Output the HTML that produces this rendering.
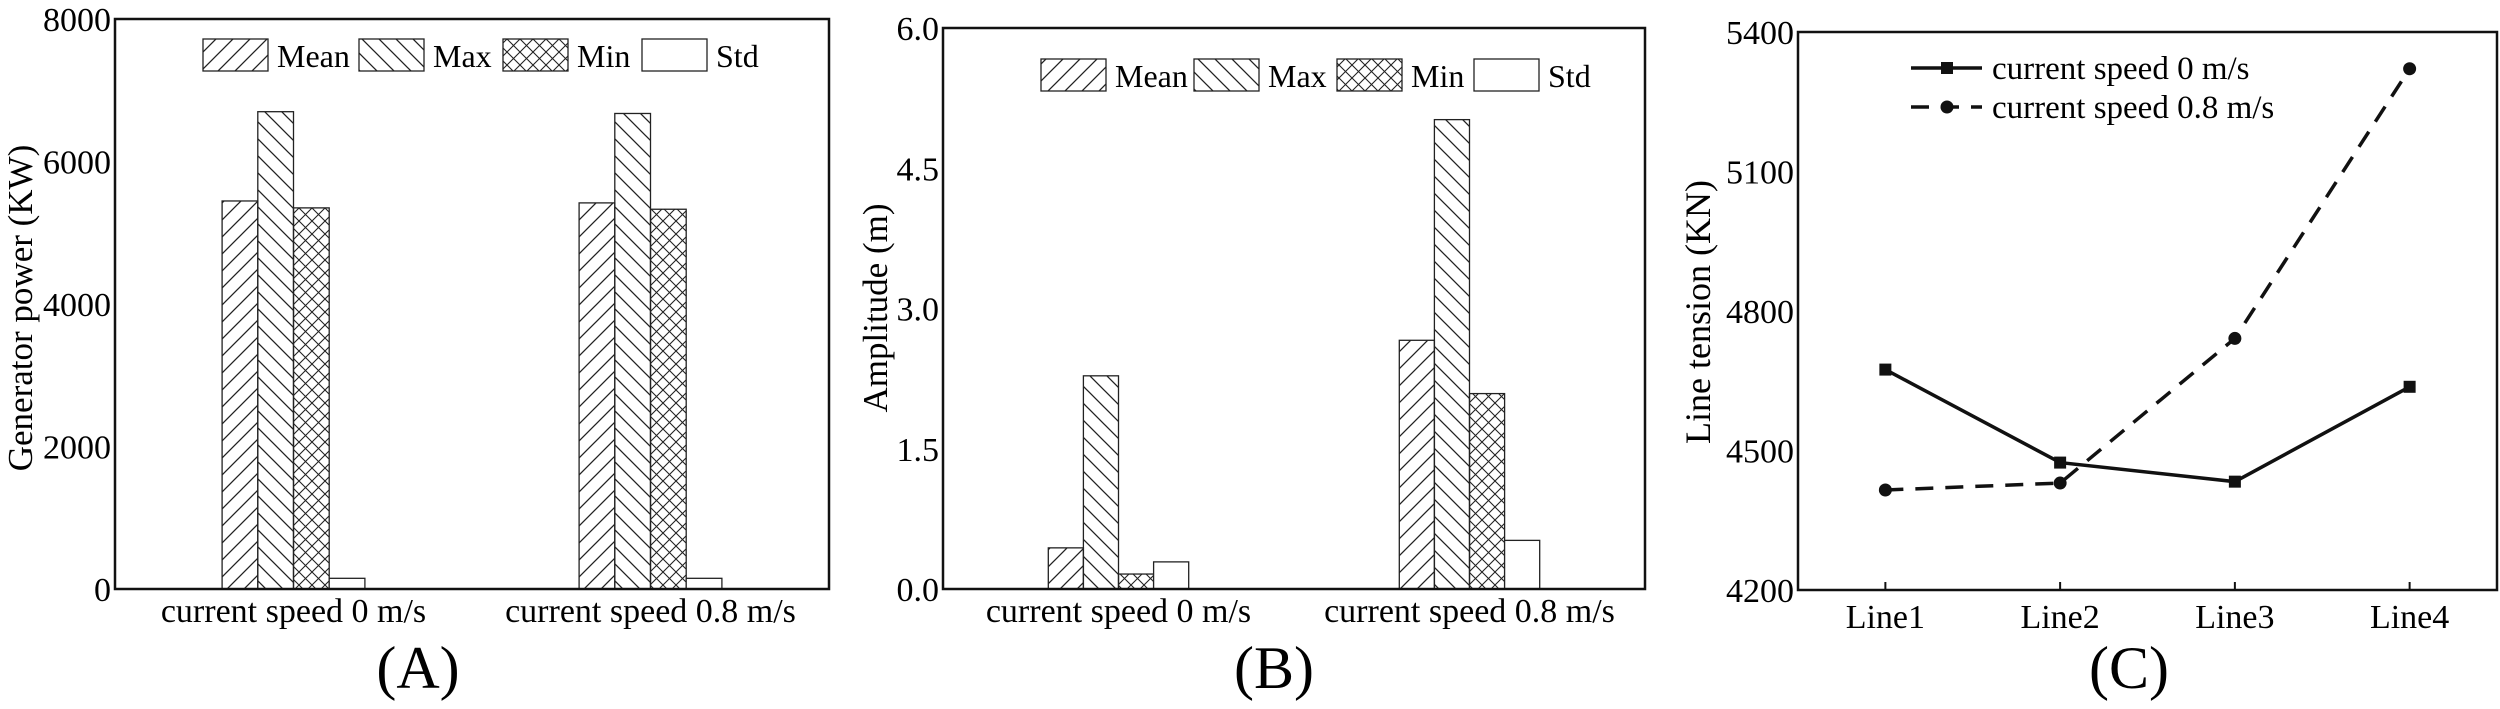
<!DOCTYPE html>
<html><head><meta charset="utf-8"><style>
html,body{margin:0;padding:0;background:#fff;}
svg{display:block;font-family:"Liberation Serif",serif;}
</style></head><body>
<svg id="fig" width="2500" height="709" viewBox="0 0 2500 709" xmlns="http://www.w3.org/2000/svg">
<defs>
<pattern id="pMean" patternUnits="userSpaceOnUse" width="17" height="17">
<path d="M-2,19 L19,-2 M-2,2 L2,-2 M15,19 L19,15" stroke="#222" stroke-width="1.3"/></pattern>
<pattern id="pMax" patternUnits="userSpaceOnUse" width="17" height="17">
<path d="M-2,-2 L19,19 M15,-2 L19,2 M-2,15 L2,19" stroke="#222" stroke-width="1.3"/></pattern>
<pattern id="pMin" patternUnits="userSpaceOnUse" width="13" height="13">
<path d="M-2,15 L15,-2 M-2,-2 L15,15 M-2,2 L2,-2 M11,15 L15,11 M11,-2 L15,2 M-2,11 L2,15" stroke="#222" stroke-width="1.1"/></pattern>
</defs>
<g id="gA"></g>
<g id="gB"></g>
<g id="gC"></g>
</svg>
<script>
const barSeries = ["Mean","Max","Min","Std"];
const barCats = ["current speed 0 m/s","current speed 0.8 m/s"];
const aMean = [5446, 5419];
const aMax = [6699, 6674];
const aMin = [5349, 5330];
const aStd = [150, 150];
const aTicks = ["0","2000","4000","6000","8000"];
const bMean = [0.44, 2.66];
const bMax = [2.28, 5.02];
const bMin = [0.16, 2.09];
const bStd = [0.29, 0.52];
const bTicks = ["0.0","1.5","3.0","4.5","6.0"];
const cCats = ["Line1","Line2","Line3","Line4"];
const cSpeed0 = [4674, 4474, 4433, 4637];
const cSpeed08 = [4415, 4430, 4741, 5321];
const cTicks = ["4200","4500","4800","5100","5400"];
const cSeriesNames = ["current speed 0 m/s","current speed 0.8 m/s"];

const NS="http://www.w3.org/2000/svg";
function mk(parent,tag,attrs,text){const e=document.createElementNS(NS,tag);for(const k in attrs)e.setAttribute(k,attrs[k]);if(text!==undefined)e.textContent=text;parent.appendChild(e);return e;}
const fills={Mean:"url(#pMean)",Max:"url(#pMax)",Min:"url(#pMin)",Std:"#fff"};

function barPanel(g,box,vals,ticks,ymax,ytitle,ytx,leg,label,labelX){
  const {l,r,t,b}=box, w=r-l;
  const y=v=>b-(v/ymax)*(b-t);
  const bw=w*0.05;
  vals.forEach((arr,si)=>{arr.forEach((v,ci)=>{
    const cx=l+w*(ci===0?0.25:0.75);
    const x=cx-2*bw+si*bw;
    const rc=mk(g,"rect",{x:x,y:y(v),width:bw,height:b-y(v),fill:fills[barSeries[si]],stroke:"#222","stroke-width":1.3});
    
    
  });});
  const fr=mk(g,"rect",{x:l,y:t,width:w,height:b-t,fill:"none",stroke:"#111","stroke-width":2.5});
  
  
  ticks.forEach((tk,i)=>{const v=ymax*i/(ticks.length-1);
    const tx=mk(g,"text",{x:l-4,y:y(v)+12,"text-anchor":"end","font-size":34},tk);
    
    
  });
  barCats.forEach((c,ci)=>{const cx=l+w*(ci===0?0.25:0.75);
    const tx=mk(g,"text",{x:cx,y:622,"text-anchor":"middle","font-size":34},c);
    
    
  });
  const yt=mk(g,"text",{x:ytx,y:308,"text-anchor":"middle","font-size":35,transform:"rotate(-90 "+ytx+" 308)"},ytitle);
  
  
  barSeries.forEach((s,si)=>{
    const lg=mk(g,"g",{});
    
    
    mk(lg,"rect",{x:leg.xs[si],y:leg.y,width:65,height:32,fill:fills[s],stroke:"#222","stroke-width":1.3});
    mk(lg,"text",{x:leg.xs[si]+74,y:leg.y+28,"font-size":32},s);
  });
  const pl=mk(g,"text",{x:labelX,y:688,"text-anchor":"middle","font-size":60},label);
  
  
}
barPanel(document.getElementById("gA"),{l:115,r:829,t:19,b:589},[aMean,aMax,aMin,aStd],aTicks,8000,"Generator power (KW)",32,{y:39,xs:[203,359,503,642]},"(A)",418);
barPanel(document.getElementById("gB"),{l:943,r:1645,t:28,b:589},[bMean,bMax,bMin,bStd],bTicks,6.0,"Amplitude (m)",887,{y:59,xs:[1041,1194,1337,1474]},"(B)",1274);

(function(){
  const g=document.getElementById("gC");
  const l=1798,r=2497,t=32,b=590,w=r-l;
  const y=v=>b-(v-4200)/1200*(b-t);
  const x=i=>l+w*(i+0.5)/4;
  const fr=mk(g,"rect",{x:l,y:t,width:w,height:b-t,fill:"none",stroke:"#111","stroke-width":2.5});
  
  
  cTicks.forEach((tk,i)=>{const v=4200+300*i;
    const tx=mk(g,"text",{x:l-4,y:y(v)+12,"text-anchor":"end","font-size":34},tk);
    
    
  });
  cCats.forEach((c,i)=>{
    mk(g,"line",{x1:x(i),x2:x(i),y1:b,y2:b-8,stroke:"#111","stroke-width":2});
    const tx=mk(g,"text",{x:x(i),y:628,"text-anchor":"middle","font-size":34},c);
    
    
  });
  const yt=mk(g,"text",{x:1710,y:312,"text-anchor":"middle","font-size":36,transform:"rotate(-90 1710 312)"},"Line tension (KN)");
  
  
  const p0=cSpeed0.map((v,i)=>x(i)+","+y(v)).join(" ");
  const l0=mk(g,"polyline",{points:p0,fill:"none",stroke:"#111","stroke-width":3.5});
  
  
  const p1=cSpeed08.map((v,i)=>x(i)+","+y(v)).join(" ");
  const l1=mk(g,"polyline",{points:p1,fill:"none",stroke:"#111","stroke-width":3.5,"stroke-dasharray":"18,12"});
  
  
  cSpeed0.forEach((v,i)=>{const m=mk(g,"rect",{x:x(i)-6,y:y(v)-6,width:12,height:12,fill:"#111"});
    
    });
  cSpeed08.forEach((v,i)=>{const m=mk(g,"circle",{cx:x(i),cy:y(v),r:6.5,fill:"#111"});
    
    });
  const lg0=mk(g,"g",{});
  
  
  mk(lg0,"line",{x1:1911,x2:1982,y1:68,y2:68,stroke:"#111","stroke-width":3.5});
  mk(lg0,"rect",{x:1941,y:62,width:12,height:12,fill:"#111"});
  mk(lg0,"text",{x:1992,y:79,"font-size":33},cSeriesNames[0]);
  const lg1=mk(g,"g",{});
  
  
  mk(lg1,"line",{x1:1911,x2:1982,y1:107,y2:107,stroke:"#111","stroke-width":3.5,"stroke-dasharray":"18,12"});
  mk(lg1,"circle",{cx:1947,cy:107,r:6.5,fill:"#111"});
  mk(lg1,"text",{x:1992,y:118,"font-size":33},cSeriesNames[1]);
  const pl=mk(g,"text",{x:2129,y:688,"text-anchor":"middle","font-size":60},"(C)");
  
  
})();
</script>
</body></html>
